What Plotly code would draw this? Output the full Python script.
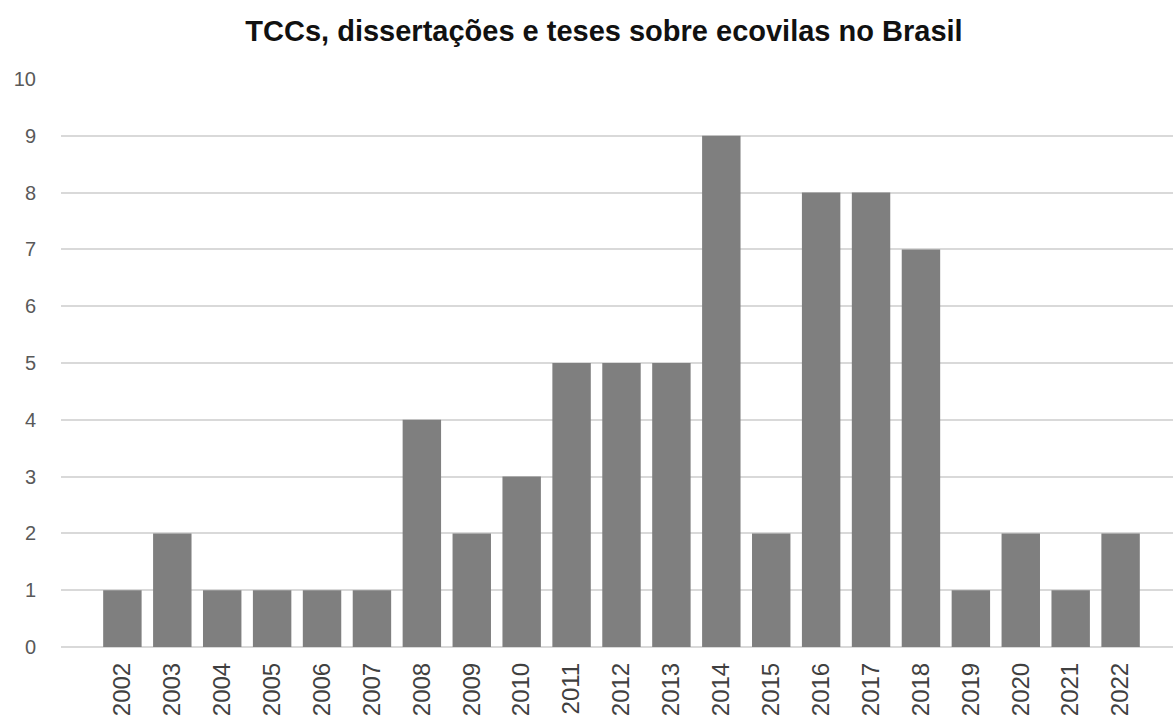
import plotly.graph_objects as go

years = ["2002", "2003", "2004", "2005", "2006", "2007", "2008", "2009", "2010", "2011",
         "2012", "2013", "2014", "2015", "2016", "2017", "2018", "2019", "2020", "2021", "2022"]
counts = [1, 2, 1, 1, 1, 1, 4, 2, 3, 5, 5, 5, 9, 2, 8, 8, 7, 1, 2, 1, 2]
y_ticks = list(range(0, 11))

FONT = "Liberation Sans, Arial, sans-serif"

fig = go.Figure(go.Bar(
    x=years, y=counts,
    marker=dict(color="#7f7f7f", line=dict(width=0)),
    width=0.77,
))

fig.update_layout(
    width=1173, height=716,
    margin=dict(l=61, r=0, t=79, b=69),
    paper_bgcolor="white", plot_bgcolor="white",
    showlegend=False,
    title=dict(
        text="<b>TCCs, dissertações e teses sobre ecovilas no Brasil</b>",
        font=dict(family=FONT, size=29, color="#111111"),
        x=604 / 1173, xanchor="center", xref="container",
        y=1 - 31 / 716, yanchor="middle", yref="container",
    ),
)

fig.update_xaxes(
    type="category",
    range=[-1.23, 21.05],
    tickangle=-90,
    tickfont=dict(family=FONT, size=24, color="#404040"),
    showgrid=False, zeroline=False, showline=False,
    ticks="", ticklabelstandoff=10,
)

fig.update_yaxes(
    range=[0, 10],
    tickvals=y_ticks,
    tickfont=dict(family=FONT, size=20, color="#595959"),
    showgrid=True, gridcolor="#d9d9d9", gridwidth=1.5,
    zeroline=True, zerolinecolor="#d9d9d9", zerolinewidth=1.5,
    showline=False, ticks="", ticklabelstandoff=24,
)

fig.write_html("out.html")
